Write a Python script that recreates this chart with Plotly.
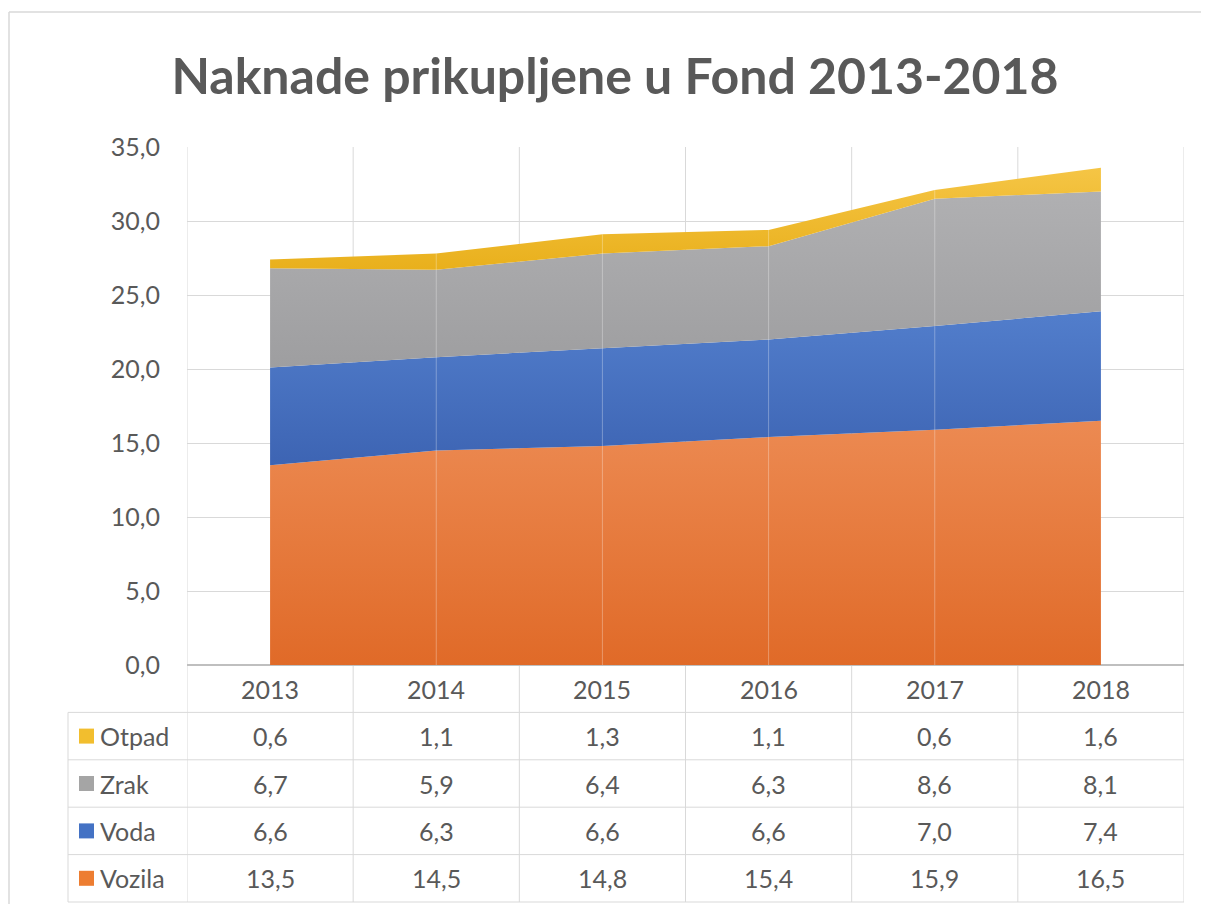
import plotly.graph_objects as go

years = ["2013", "2014", "2015", "2016", "2017", "2018"]
vozila = [13.5, 14.5, 14.8, 15.4, 15.9, 16.5]
voda = [6.6, 6.3, 6.6, 6.6, 7.0, 7.4]
zrak = [6.7, 5.9, 6.4, 6.3, 8.6, 8.1]
otpad = [0.6, 1.1, 1.3, 1.1, 0.6, 1.6]
y_ticks = [0, 5, 10, 15, 20, 25, 30, 35]
title_text = "Naknade prikupljene u Fond 2013-2018"

# layout constants (pixels, screen coordinates; page body has an 8px margin)
OFF = 8
W, H = 1209 - OFF, 912 - 2 * OFF
PL, PR, PT, PB = 187, 1184, 147, 665   # plot area in screen px
ML, MR, MT, MB = PL - OFF, W - (PR - OFF), PT - OFF, H - (PB - OFF)
PW, PH = W - ML - MR, H - MT - MB
ROW_PX = 47.4
LEG_LEFT_PX = 68

def py(px_below):
    return -px_below / PH

def px_x(px):
    return (px - PL) / PW

FONT = "Lato"
TXT = "#595959"
GRID = "#D9D9D9"
FS = 25

series = [
    ("Vozila", vozila, "#ED7D31", [[0, "#E06A28"], [1, "#EC8A52"]]),
    ("Voda", voda, "#4472C4", [[0, "#3D64B3"], [1, "#527ECC"]]),
    ("Zrak", zrak, "#A5A5A5", [[0, "#9E9EA0"], [1, "#B0B0B2"]]),
    ("Otpad", otpad, "#FFC000", [[0, "#E9B01C"], [1, "#F5C545"]]),
]

xs = list(range(len(years)))
fig = go.Figure()
for name, vals, col, cs in series:
    fig.add_trace(go.Scatter(
        x=xs, y=vals, name=name, stackgroup="one", mode="none",
        fillcolor=col,
        fillgradient=dict(type="vertical", colorscale=cs),
        hoverinfo="skip", showlegend=False,
    ))

# subtle seams at data points
totals = [a + b + c + d for a, b, c, d in zip(vozila, voda, zrak, otpad)]
sx, sy = [], []
for i in range(1, len(years) - 1):
    sx += [i, i, None]
    sy += [0, totals[i], None]
fig.add_trace(go.Scatter(x=sx, y=sy, mode="lines",
                         line=dict(color="rgba(255,255,255,0.3)", width=1),
                         hoverinfo="skip", showlegend=False))

shapes = []
n = len(years)
bottom = py(ROW_PX * 5)
# vertical column lines
for i in range(n + 1):
    shapes.append(dict(type="line", xref="x", yref="paper", x0=i - 0.5, x1=i - 0.5,
                       y0=bottom, y1=1, line=dict(color=GRID, width=1), layer="below"))
# legend column left line
shapes.append(dict(type="line", xref="paper", yref="paper", x0=px_x(LEG_LEFT_PX), x1=px_x(LEG_LEFT_PX),
                   y0=bottom, y1=py(ROW_PX), line=dict(color=GRID, width=1)))
# horizontal table lines
for k in range(1, 6):
    shapes.append(dict(type="line", xref="paper", yref="paper", x0=px_x(LEG_LEFT_PX), x1=1,
                       y0=py(ROW_PX * k), y1=py(ROW_PX * k), line=dict(color=GRID, width=1)))
# outer frame (top and left edges)
frame_top = 1 + (PT - 12) / PH
shapes.append(dict(type="line", xref="paper", yref="paper",
                   x0=px_x(OFF + 1), x1=px_x(1260), y0=frame_top, y1=frame_top,
                   line=dict(color="#D9D9D9", width=1.5), layer="below"))
shapes.append(dict(type="line", xref="paper", yref="paper",
                   x0=px_x(OFF + 1), x1=px_x(OFF + 1), y0=py(H), y1=frame_top,
                   line=dict(color="#D9D9D9", width=1.5), layer="below"))

annotations = []
for i, yr in enumerate(years):
    annotations.append(dict(xref="x", yref="paper", x=i, y=py(ROW_PX * 0.5), text=yr,
                            xanchor="center", yanchor="middle",
                            showarrow=False, font=dict(family=FONT, size=FS, color=TXT)))

table_rows = [("Otpad", otpad, "#F2BE2E"), ("Zrak", zrak, "#A5A5A5"),
              ("Voda", voda, "#4472C4"), ("Vozila", vozila, "#ED7D31")]
for r, (name, vals, col) in enumerate(table_rows):
    yc = py(ROW_PX * (r + 1.5))
    for i, v in enumerate(vals):
        annotations.append(dict(xref="x", yref="paper", x=i, y=yc,
                                xanchor="center", yanchor="middle",
                                text=f"{v:.1f}".replace(".", ","), showarrow=False,
                                font=dict(family=FONT, size=FS, color=TXT)))
    annotations.append(dict(xref="paper", yref="paper", x=px_x(98), y=yc,
                            xanchor="left", yanchor="middle",
                            text=name, showarrow=False, font=dict(family=FONT, size=FS, color=TXT)))
    # legend square
    shapes.append(dict(type="rect", xref="paper", yref="paper",
                       x0=px_x(79), x1=px_x(94), y0=yc - 7.5 / PH, y1=yc + 7.5 / PH,
                       fillcolor=col, line=dict(width=0)))

fig.update_layout(
    width=W, height=H, autosize=False,
    margin=dict(l=ML, r=MR, t=MT, b=MB),
    paper_bgcolor="white", plot_bgcolor="white",
    separators=",.",
    title=dict(text=f"<b>{title_text}</b>", xref="container", yref="container",
               x=(615 - OFF) / W, y=1 - (76 - OFF) / H, xanchor="center", yanchor="middle",
               font=dict(family=FONT, size=50, color=TXT)),
    xaxis=dict(range=[-0.5, n - 0.5], showgrid=False, showticklabels=False,
               zeroline=False, showline=False, ticks=""),
    yaxis=dict(range=[0, 35], tickvals=y_ticks, tickformat=".1f", showgrid=True,
               gridcolor=GRID, gridwidth=1, zeroline=True, zerolinecolor="#BFBFBF",
               zerolinewidth=1.5, showline=False, ticks="", ticklabelstandoff=26,
               tickfont=dict(family=FONT, size=FS, color=TXT)),
    shapes=shapes, annotations=annotations,
)

fig.write_html("out.html")
